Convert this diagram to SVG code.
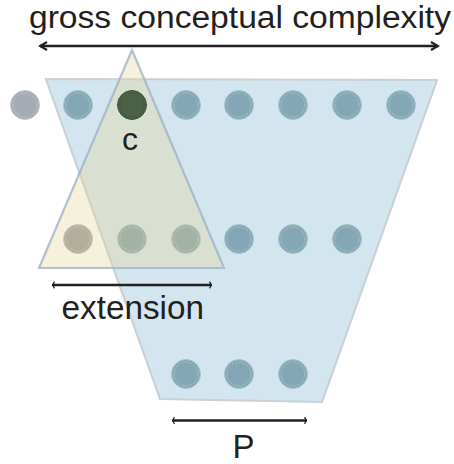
<svg xmlns="http://www.w3.org/2000/svg" width="454" height="464" viewBox="0 0 454 464">
<defs>
<style>
text{font-family:"Liberation Sans",Arial,sans-serif;fill:#231f20}
.dot{stroke-width:0.8;stroke-dasharray:3 1}
.b{fill:#84a7b5;stroke:#a9c3cd}
.g{fill:#a5aab3;stroke:#c3c7cd}
.k{fill:#4a6146;stroke:#3f5339}
.y{fill:#b3ae9c;stroke:#cbc6b6}
.m{fill:#a2b3a5;stroke:#bfcbc1}
.ln{stroke:#231f20;stroke-width:2.6;fill:none}
</style>
<marker id="ah" viewBox="0 0 10 10" refX="8" refY="5" markerWidth="10" markerHeight="10" markerUnits="userSpaceOnUse" orient="auto-start-reverse">
<path d="M1,1 L8,5 L1,9" fill="none" stroke="#231f20" stroke-width="2.2"/>
</marker>
<marker id="as" viewBox="0 0 6 10" refX="4" refY="5" markerWidth="5" markerHeight="9" markerUnits="userSpaceOnUse" orient="auto-start-reverse">
<path d="M1,1 Q4,5 1,9" fill="none" stroke="#231f20" stroke-width="1.6"/>
</marker>
</defs>
<g id="trapezoid">
<polygon points="46,79 437,80 322,402 160,399" fill="#d3e6ef" stroke="#c9d0d8" stroke-width="2.2"/>
</g>
<g id="triangle">
<polygon points="132,50 224,268 39,268" fill="#e8d698" fill-opacity="0.34" stroke="#9fb3c6" stroke-opacity="0.8" stroke-width="2.2"/>
</g>
<g id="connectors">
<line class="ln" x1="40" y1="46" x2="438" y2="46" marker-start="url(#ah)" marker-end="url(#ah)"/>
<line class="ln" x1="52" y1="285" x2="212" y2="285" marker-start="url(#as)" marker-end="url(#as)"/>
<line class="ln" x1="172" y1="420.5" x2="307" y2="420.5" marker-start="url(#as)" marker-end="url(#as)"/>
</g>
<g id="row1">
<g id="n1-0"><circle class="g" cx="25" cy="105" r="14.5" stroke="none"/><circle class="g dot" cx="25" cy="105" r="12" fill="none"/></g>
<g id="n1-1"><circle class="b" cx="78" cy="105" r="14.5" stroke="none"/><circle class="b dot" cx="78" cy="105" r="12" fill="none"/></g>
<g id="c-node"><circle class="k" cx="132" cy="105" r="14.5" stroke="none"/><circle class="k dot" cx="132" cy="105" r="12" fill="none"/></g>
<g id="n1-3"><circle class="b" cx="186" cy="105" r="14.5" stroke="none"/><circle class="b dot" cx="186" cy="105" r="12" fill="none"/></g>
<g id="n1-4"><circle class="b" cx="239" cy="105" r="14.5" stroke="none"/><circle class="b dot" cx="239" cy="105" r="12" fill="none"/></g>
<g id="n1-5"><circle class="b" cx="293" cy="105" r="14.5" stroke="none"/><circle class="b dot" cx="293" cy="105" r="12" fill="none"/></g>
<g id="n1-6"><circle class="b" cx="347" cy="105" r="14.5" stroke="none"/><circle class="b dot" cx="347" cy="105" r="12" fill="none"/></g>
<g id="n1-7"><circle class="b" cx="401" cy="105" r="14.5" stroke="none"/><circle class="b dot" cx="401" cy="105" r="12" fill="none"/></g>
</g>
<g id="row2">
<g id="n2-1"><circle class="y" cx="78" cy="239" r="14.5" stroke="none"/><circle class="y dot" cx="78" cy="239" r="12" fill="none"/></g>
<g id="n2-2"><circle class="m" cx="132" cy="239" r="14.5" stroke="none"/><circle class="m dot" cx="132" cy="239" r="12" fill="none"/></g>
<g id="n2-3"><circle class="m" cx="186" cy="239" r="14.5" stroke="none"/><circle class="m dot" cx="186" cy="239" r="12" fill="none"/></g>
<g id="n2-4"><circle class="b" cx="239" cy="239" r="14.5" stroke="none"/><circle class="b dot" cx="239" cy="239" r="12" fill="none"/></g>
<g id="n2-5"><circle class="b" cx="293" cy="239" r="14.5" stroke="none"/><circle class="b dot" cx="293" cy="239" r="12" fill="none"/></g>
<g id="n2-6"><circle class="b" cx="347" cy="239" r="14.5" stroke="none"/><circle class="b dot" cx="347" cy="239" r="12" fill="none"/></g>
</g>
<g id="row3">
<g id="n3-1"><circle class="b" cx="186" cy="374" r="14.5" stroke="none"/><circle class="b dot" cx="186" cy="374" r="12" fill="none"/></g>
<g id="n3-2"><circle class="b" cx="239" cy="374" r="14.5" stroke="none"/><circle class="b dot" cx="239" cy="374" r="12" fill="none"/></g>
<g id="n3-3"><circle class="b" cx="293" cy="374" r="14.5" stroke="none"/><circle class="b dot" cx="293" cy="374" r="12" fill="none"/></g>
</g>
<g id="labels">
<text x="29" y="28" font-size="31" textLength="422" lengthAdjust="spacingAndGlyphs">gross conceptual complexity</text>
<text x="130" y="150" font-size="32" text-anchor="middle">c</text>
<text x="61.5" y="319" font-size="33" textLength="142.5" lengthAdjust="spacingAndGlyphs">extension</text>
<text x="243.5" y="458" font-size="33" text-anchor="middle">P</text>
</g>
</svg>
